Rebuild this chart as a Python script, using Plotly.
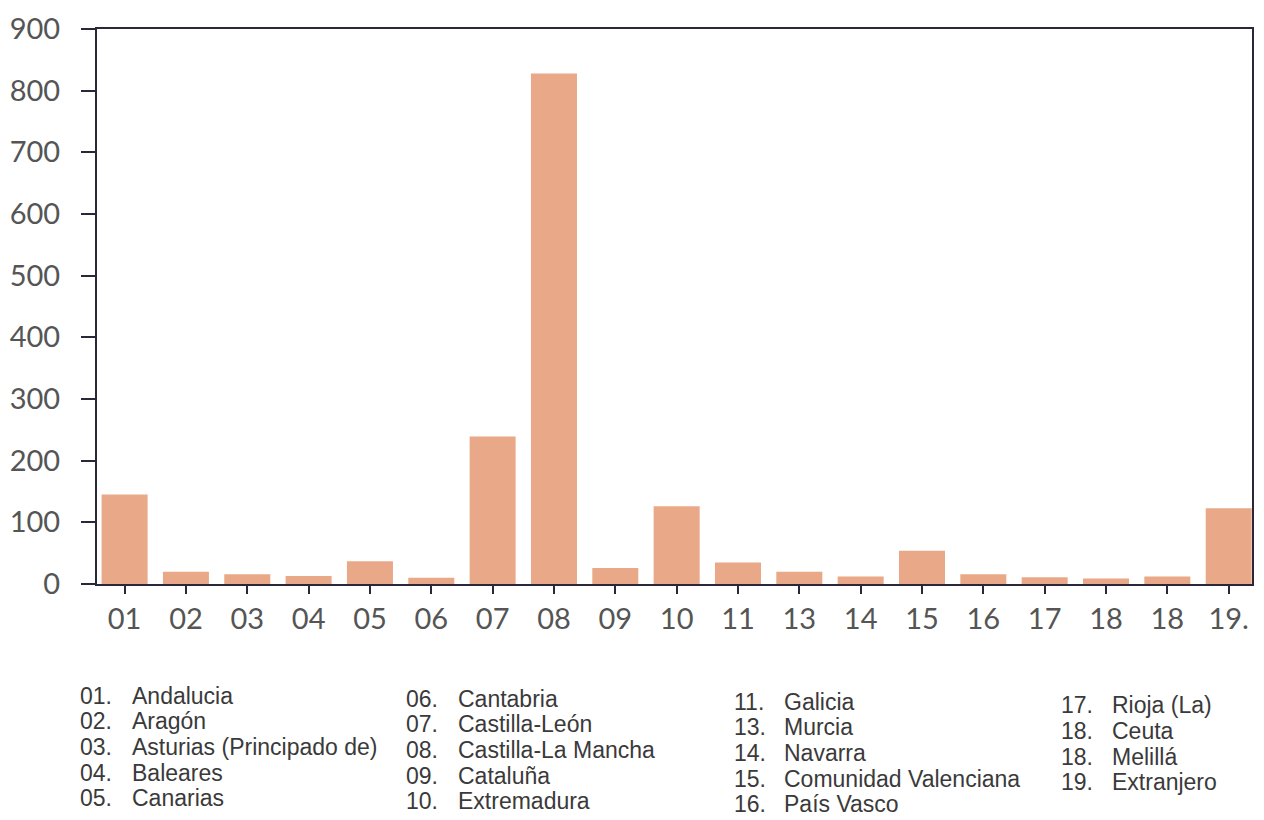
import plotly.graph_objects as go

# ---- data ----
codes = ["01", "02", "03", "04", "05", "06", "07", "08", "09", "10",
         "11", "13", "14", "15", "16", "17", "18", "18", "19."]
values = [145, 20, 16, 13, 37, 10, 239, 828, 26, 126,
          35, 20, 12, 54, 16, 11, 9, 12, 123]

y_ticks = [0, 100, 200, 300, 400, 500, 600, 700, 800, 900]

legend_codes = [
    ["01.", "02.", "03.", "04.", "05."],
    ["06.", "07.", "08.", "09.", "10."],
    ["11.", "13.", "14.", "15.", "16."],
    ["17.", "18.", "18.", "19."],
]
legend_names = [
    ["Andalucia", "Aragón", "Asturias (Principado de)", "Baleares", "Canarias"],
    ["Cantabria", "Castilla-León", "Castilla-La Mancha", "Cataluña", "Extremadura"],
    ["Galicia", "Murcia", "Navarra", "Comunidad Valenciana", "País Vasco"],
    ["Rioja (La)", "Ceuta", "Melillá", "Extranjero"],
]

# ---- layout constants (pixels) ----
W, H = 1264, 820
L, R, T, B = 97, 10, 22, 236
plot_w = W - L - R
plot_h = H - T - B

bar_color = "#E9A887"
axis_color = "#2b2638"
tick_font = dict(family="Lato, Open Sans, sans-serif", size=29, color="#555555")
leg_font = dict(family="Liberation Sans, Arial, sans-serif", size=23, color="#3a3a3a")

positions = list(range(len(codes)))

fig = go.Figure()
fig.add_trace(go.Bar(
    x=positions, y=values, width=0.75,
    marker=dict(color=bar_color, line=dict(width=0)),
    hoverinfo="y",
))

fig.update_layout(
    width=W, height=H,
    margin=dict(l=L, r=R, t=T, b=B),
    paper_bgcolor="white", plot_bgcolor="white",
    showlegend=False,
    xaxis=dict(
        range=[-0.45, 18.38],
        tickmode="array", tickvals=positions, ticktext=codes,
        ticks="outside", ticklen=8, tickwidth=1.5, tickcolor=axis_color,
        showline=True, linecolor=axis_color, linewidth=2, mirror=True,
        showgrid=False, zeroline=False,
        tickfont=tick_font, ticklabelstandoff=0,
    ),
    yaxis=dict(
        range=[0, 900],
        tickmode="array", tickvals=y_ticks,
        ticks="outside", ticklen=14, tickwidth=1.5, tickcolor=axis_color,
        showline=True, linecolor=axis_color, linewidth=2, mirror=True,
        showgrid=False, zeroline=False,
        tickfont=tick_font, ticklabelstandoff=15,
    ),
)

# legend text block below the chart (positions in page pixels)
col_num_x = [78, 405, 733, 1061]
col_name_x = [130, 457, 783, 1112]
col_y0 = [697, 700, 703, 707]
row_step = 26

def px_to_paper(px, py):
    return (px - L) / plot_w, (H - B - py) / plot_h

for c in range(4):
    for r, (code, name) in enumerate(zip(legend_codes[c], legend_names[c])):
        py = col_y0[c] + r * row_step
        xn, yy = px_to_paper(col_num_x[c], py)
        xm, _ = px_to_paper(col_name_x[c], py)
        fig.add_annotation(x=xn, y=yy, xref="paper", yref="paper", text=code,
                           showarrow=False, xanchor="left", yanchor="middle", font=leg_font)
        fig.add_annotation(x=xm, y=yy, xref="paper", yref="paper", text=name,
                           showarrow=False, xanchor="left", yanchor="middle", font=leg_font)

fig.write_html(
    "out.html",
    config={"displayModeBar": False},
    post_script=(
        "document.documentElement.style.margin='0';"
        "document.body.style.margin='0';"
        "document.documentElement.style.overflow='hidden';"
        "document.body.style.overflow='hidden';"
    ),
)
